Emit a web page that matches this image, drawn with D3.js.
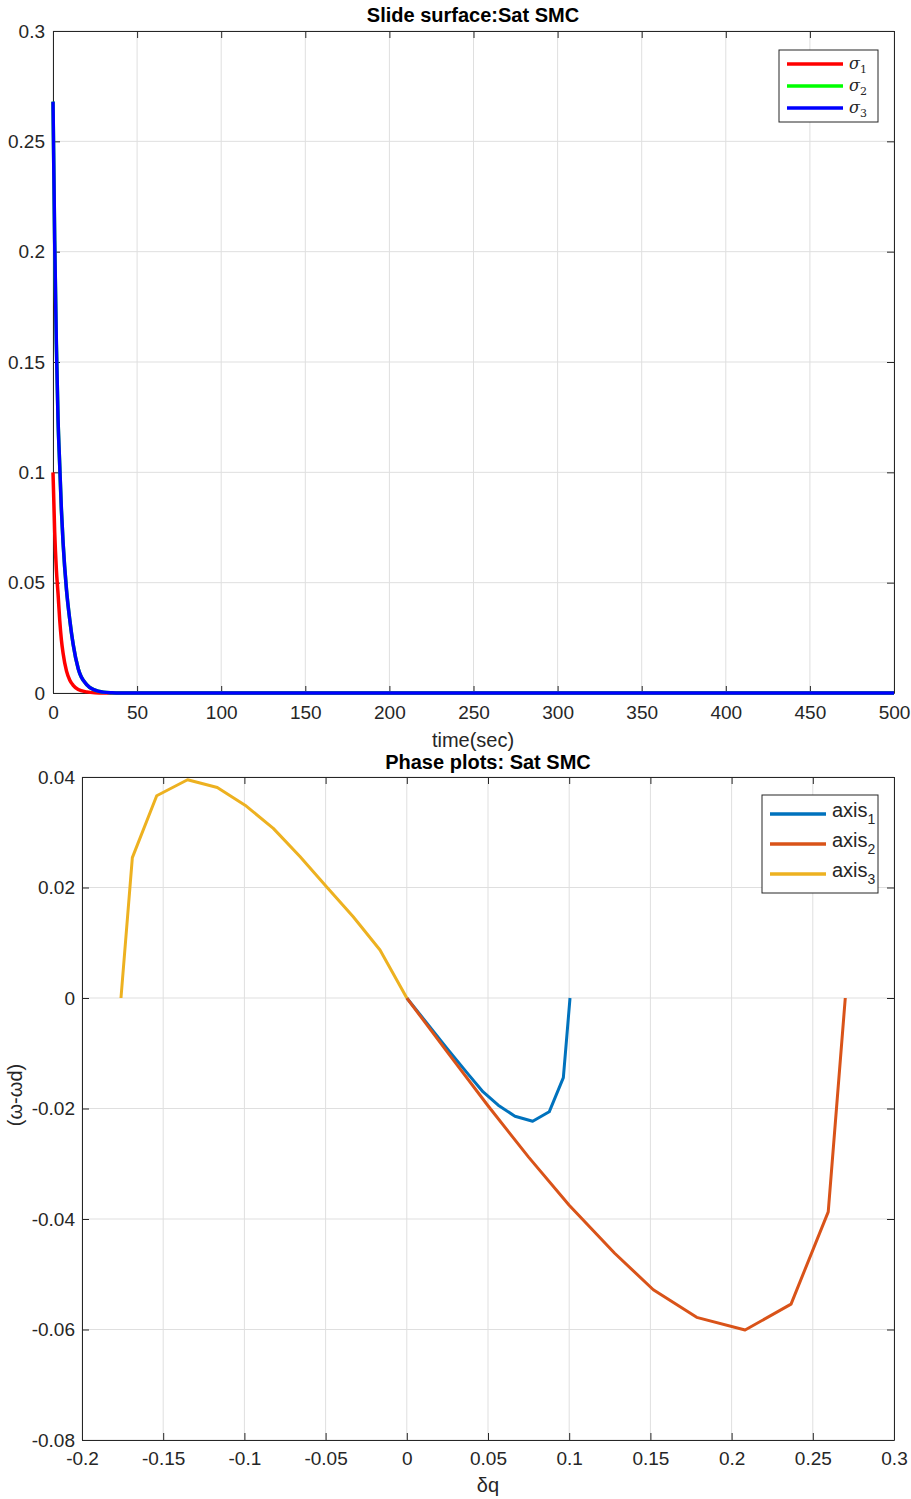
<!DOCTYPE html>
<html>
<head>
<meta charset="utf-8">
<script src="https://cdn.jsdelivr.net/npm/d3@7"></script>
<style>
  html, body { margin: 0; padding: 0; background: #fff; }
  svg { display: block; }
  .tick text { font-family: "Liberation Sans", Arial, sans-serif; font-size: 19px; fill: #262626; }
  .lbl { font-family: "Liberation Sans", Arial, sans-serif; font-size: 20px; fill: #262626; }
  .ttl { font-family: "Liberation Sans", Arial, sans-serif; font-size: 20px; font-weight: bold; fill: #000; }
</style>
</head>
<body>
<svg id="fig" width="911" height="1499"></svg>
<script>
// Sliding surfaces over time (seconds)
const timeSec = [0, 1, 2, 3, 4, 5, 6, 8, 10, 12, 15, 20, 25, 30, 35, 40, 60, 100, 150, 200, 250, 300, 350, 400, 450, 500];
const sigma1 = [0.1, 0.073, 0.056, 0.045, 0.033, 0.024, 0.018, 0.010, 0.0058, 0.0035, 0.0016, 0.0005, 0.0001, 0, 0, 0, 0, 0, 0, 0, 0, 0, 0, 0, 0, 0];
const sigma2 = [0.268, 0.205, 0.158, 0.124, 0.103, 0.083, 0.068, 0.047, 0.033, 0.022, 0.011, 0.0038, 0.0013, 0.0004, 0.0001, 0, 0, 0, 0, 0, 0, 0, 0, 0, 0, 0];
const sigma3 = [0.268, 0.205, 0.158, 0.124, 0.103, 0.083, 0.068, 0.047, 0.033, 0.022, 0.011, 0.0038, 0.0013, 0.0004, 0.0001, 0, 0, 0, 0, 0, 0, 0, 0, 0, 0, 0];
const timeTicks = [0, 50, 100, 150, 200, 250, 300, 350, 400, 450, 500];
const sigmaTicks = [0, 0.05, 0.1, 0.15, 0.2, 0.25, 0.3];

// Phase trajectories: attitude error dq vs. rate error (w - wd)
const axis1Dq = [0, 0.0125, 0.025, 0.037, 0.047, 0.0563, 0.0666, 0.0775, 0.0877, 0.0964, 0.1005];
const axis1Dw = [0, -0.0046, -0.0092, -0.0135, -0.017, -0.0194, -0.0214, -0.0223, -0.0206, -0.0144, 0];
const axis2Dq = [0, 0.025, 0.05, 0.075, 0.1, 0.128, 0.1518, 0.1785, 0.2083, 0.2366, 0.2595, 0.27];
const axis2Dw = [0, -0.0098, -0.0195, -0.0288, -0.0375, -0.0462, -0.0528, -0.0578, -0.0601, -0.0554, -0.0387, 0];
const axis3Dq = [0, -0.0165, -0.033, -0.0493, -0.0658, -0.0822, -0.0996, -0.1167, -0.135, -0.154, -0.169, -0.176];
const axis3Dw = [0, 0.0087, 0.0147, 0.0201, 0.0256, 0.0307, 0.0349, 0.0381, 0.0395, 0.0366, 0.0254, 0];
const dqTicks = [-0.2, -0.15, -0.1, -0.05, 0, 0.05, 0.1, 0.15, 0.2, 0.25, 0.3];
const dwTicks = [-0.08, -0.06, -0.04, -0.02, 0, 0.02, 0.04];

const svg = d3.select("#fig");
const AX = "#262626", GRID = "#dfdfdf";

function fmt(v) {
  if (Math.abs(v) < 1e-12) return "0";
  return String(+v.toFixed(4));
}

function drawAxes(g, x, y, xt, yt, xPad, yPad) {
  const [x0, x1] = x.range(), [y0, y1] = y.range();
  // grid
  g.append("g").selectAll("line").data(xt).join("line")
    .attr("x1", d => x(d)).attr("x2", d => x(d)).attr("y1", y0).attr("y2", y1)
    .attr("stroke", GRID).attr("stroke-width", 1);
  g.append("g").selectAll("line").data(yt).join("line")
    .attr("y1", d => y(d)).attr("y2", d => y(d)).attr("x1", x0).attr("x2", x1)
    .attr("stroke", GRID).attr("stroke-width", 1);
  // bottom / left axes with inward ticks
  const bx = g.append("g").attr("transform", `translate(0,${y0})`)
    .call(d3.axisBottom(x).tickValues(xt).tickFormat(fmt).tickSizeInner(-7).tickSizeOuter(0).tickPadding(xPad));
  const ly = g.append("g").attr("transform", `translate(${x0},0)`)
    .call(d3.axisLeft(y).tickValues(yt).tickFormat(fmt).tickSizeInner(-7).tickSizeOuter(0).tickPadding(yPad));
  // top / right box edges with inward ticks
  const tx = g.append("g").attr("transform", `translate(0,${y1})`)
    .call(d3.axisTop(x).tickValues(xt).tickFormat("").tickSizeInner(-7).tickSizeOuter(0));
  const ry = g.append("g").attr("transform", `translate(${x1},0)`)
    .call(d3.axisRight(y).tickValues(yt).tickFormat("").tickSizeInner(-7).tickSizeOuter(0));
  [bx, ly, tx, ry].forEach(a => {
    a.attr("font-size", null).attr("font-family", null);
    a.select(".domain").attr("stroke", AX).attr("stroke-width", 1);
    a.selectAll(".tick line").attr("stroke", AX).attr("stroke-width", 1);
  });
}

function legend(g, x, y, w, h, items, rowY, labelFn) {
  g.append("rect").attr("x", x).attr("y", y).attr("width", w).attr("height", h)
    .attr("fill", "#fff").attr("stroke", AX).attr("stroke-width", 1);
  items.forEach((it, i) => {
    const yy = y + rowY[i];
    g.append("line").attr("x1", x + 8).attr("x2", x + 64).attr("y1", yy).attr("y2", yy)
      .attr("stroke", it.color).attr("stroke-width", 3.5);
    labelFn(g.append("text").attr("x", x + 70).attr("y", yy + 5), it, i);
  });
}

// ---------- Top panel: sliding surfaces ----------
{
  const x = d3.scaleLinear().domain([0, 500]).range([53, 894]);
  const y = d3.scaleLinear().domain([0, 0.3]).range([693, 31]);
  const g = svg.append("g");
  drawAxes(g, x, y, timeTicks, sigmaTicks, 13, 8);

  const series = [
    { vals: sigma1, color: "#ff0000" },
    { vals: sigma2, color: "#00ff00" },
    { vals: sigma3, color: "#0000ff" }
  ];
  const line = d3.line().x(d => x(d[0])).y(d => y(d[1])).curve(d3.curveMonotoneX);
  series.forEach(s => {
    g.append("path").datum(timeSec.map((t, i) => [t, s.vals[i]]))
      .attr("d", line).attr("fill", "none").attr("stroke", s.color)
      .attr("stroke-width", 3.5).attr("stroke-linejoin", "round");
  });

  g.append("text").attr("class", "ttl").attr("x", 473).attr("y", 22).attr("text-anchor", "middle")
    .text("Slide surface:Sat SMC");
  g.append("text").attr("class", "lbl").attr("x", 473).attr("y", 747).attr("text-anchor", "middle")
    .text("time(sec)");

  legend(g, 779, 50, 99, 72, series, [14, 36, 58], (t, it, i) => {
    t.attr("font-family", "'DejaVu Serif', 'Liberation Serif', serif").attr("font-size", 16).attr("fill", "#262626");
    t.append("tspan").attr("font-style", "italic").text("σ");
    t.append("tspan").attr("font-size", 11).attr("dy", 4).text(String(i + 1));
  });
}

// ---------- Bottom panel: phase plot ----------
{
  const x = d3.scaleLinear().domain([-0.2, 0.3]).range([82, 894]);
  const y = d3.scaleLinear().domain([-0.08, 0.04]).range([1440, 777]);
  const g = svg.append("g");
  drawAxes(g, x, y, dqTicks, dwTicks, 12, 7);

  const series = [
    { dq: axis1Dq, dw: axis1Dw, color: "#0072bd", name: "axis", sub: "1" },
    { dq: axis2Dq, dw: axis2Dw, color: "#d95319", name: "axis", sub: "2" },
    { dq: axis3Dq, dw: axis3Dw, color: "#edb120", name: "axis", sub: "3" }
  ];
  const line = d3.line().x(d => x(d[0])).y(d => y(d[1]));
  series.forEach(s => {
    g.append("path").datum(s.dq.map((v, i) => [v, s.dw[i]]))
      .attr("d", line).attr("fill", "none").attr("stroke", s.color)
      .attr("stroke-width", 3).attr("stroke-linejoin", "round");
  });

  g.append("text").attr("class", "ttl").attr("x", 488).attr("y", 769).attr("text-anchor", "middle")
    .text("Phase plots: Sat SMC");
  g.append("text").attr("class", "lbl").attr("x", 488).attr("y", 1492).attr("text-anchor", "middle")
    .text("δq");
  g.append("text").attr("class", "lbl").attr("transform", "translate(22,1095) rotate(-90)")
    .attr("text-anchor", "middle").text("(ω-ωd)");

  legend(g, 762, 795, 116, 98, series, [19, 49, 79], (t, it) => {
    t.attr("class", "lbl").attr("font-size", 18).attr("dy", -2);
    t.append("tspan").text(it.name);
    t.append("tspan").attr("font-size", 14).attr("dy", 7).text(it.sub);
  });
}
</script>
</body>
</html>
